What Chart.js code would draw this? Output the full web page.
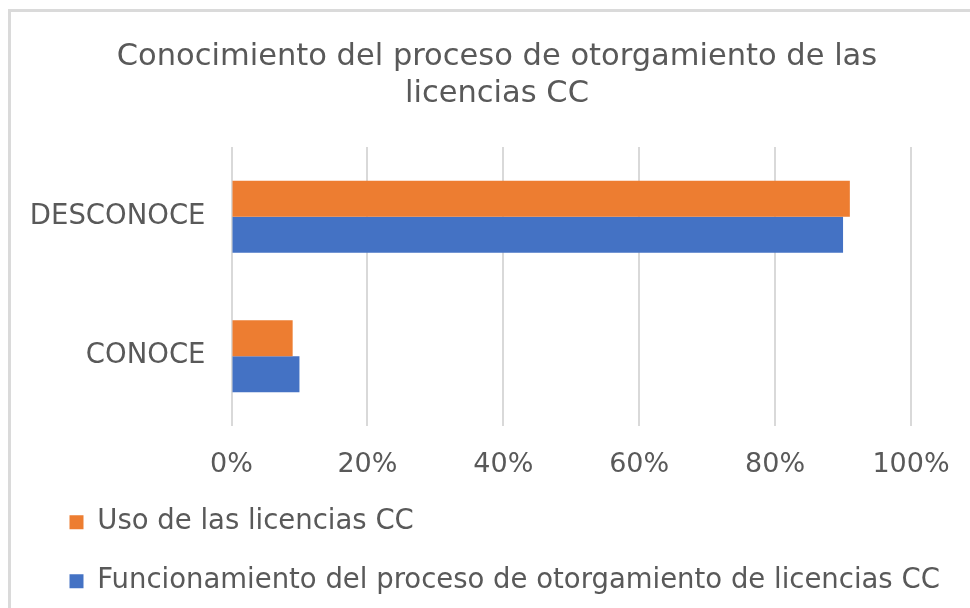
<!DOCTYPE html>
<html>
<head>
<meta charset="utf-8">
<script src="https://cdn.jsdelivr.net/npm/chart.js@4"></script>
<style>
    html, body { margin: 0; padding: 0; background: #fff; }
    #contenedor { position: relative; width: 970px; height: 608px; overflow: hidden; }
    #borde { position: absolute; left: 8px; top: 9px; width: 1000px; height: 700px;
             border-left: 3px solid #dadada; border-top: 3px solid #dadada; pointer-events: none; }
</style>
</head>
<body>
<div id="contenedor">
    <canvas id="grafico_1" width="970" height="608"></canvas>
    <div id="borde"></div>
</div>
<script>
// datos del grafico
var categorias = ['DESCONOCE', 'CONOCE'];
var uso_licencias = [91, 9];
var funcionamiento_proceso = [90, 10];
var series = ['Uso de las licencias CC', 'Funcionamiento del proceso de otorgamiento de licencias CC'];
var titulo = ['Conocimiento del proceso de otorgamiento de las', 'licencias CC'];

var gris = '#595959';
var fuente = 'DejaVu Sans';

// corre la leyenda hacia la derecha sin mover el resto
var moverLeyenda = {
    id: 'moverLeyenda',
    afterLayout: function (chart) {
        chart.legend.left += 10;
    }
};

var ctx = document.getElementById('grafico_1').getContext('2d');
var chart = new Chart(ctx, {
    type: 'bar',
    data: {
        labels: categorias,
        datasets: [{
            label: series[0],
            backgroundColor: '#ED7D31',
            data: uso_licencias,
            barPercentage: 1,
            categoryPercentage: 0.515
        }, {
            label: series[1],
            backgroundColor: '#4472C4',
            data: funcionamiento_proceso,
            barPercentage: 1,
            categoryPercentage: 0.515
        }]
    },
    plugins: [moverLeyenda],
    options: {
        indexAxis: 'y',
        responsive: false,
        animation: false,
        layout: { padding: { left: 28, right: 4, top: 14, bottom: 3 } },
        plugins: {
            title: {
                display: true,
                text: titulo,
                color: gris,
                font: { family: fuente, size: 30.5, weight: 'normal', lineHeight: 1.21 },
                padding: { top: 24.5, bottom: 34.7 }
            },
            legend: {
                position: 'bottom',
                align: 'start',
                labels: {
                    color: gris,
                    font: { family: fuente, size: 27.5 },
                    boxWidth: 14,
                    boxHeight: 14,
                    padding: 31.5
                }
            },
            tooltip: { enabled: false }
        },
        scales: {
            x: {
                min: 0,
                max: 100,
                ticks: {
                    stepSize: 20,
                    color: gris,
                    padding: 23,
                    font: { family: fuente, size: 27 },
                    callback: function (v) { return v + '%'; }
                },
                grid: { color: '#d9d9d9', lineWidth: 2, drawTicks: false },
                border: { display: false },
                afterFit: function (scale) {
                    scale.height = 51;
                    scale.paddingRight = 59;
                }
            },
            y: {
                ticks: {
                    color: gris,
                    padding: 26,
                    font: { family: fuente, size: 27.5 }
                },
                grid: { display: false, drawTicks: false },
                border: { display: false },
                afterFit: function (scale) {
                    scale.width = 203.5;
                }
            }
        }
    }
});
</script>
</body>
</html>
